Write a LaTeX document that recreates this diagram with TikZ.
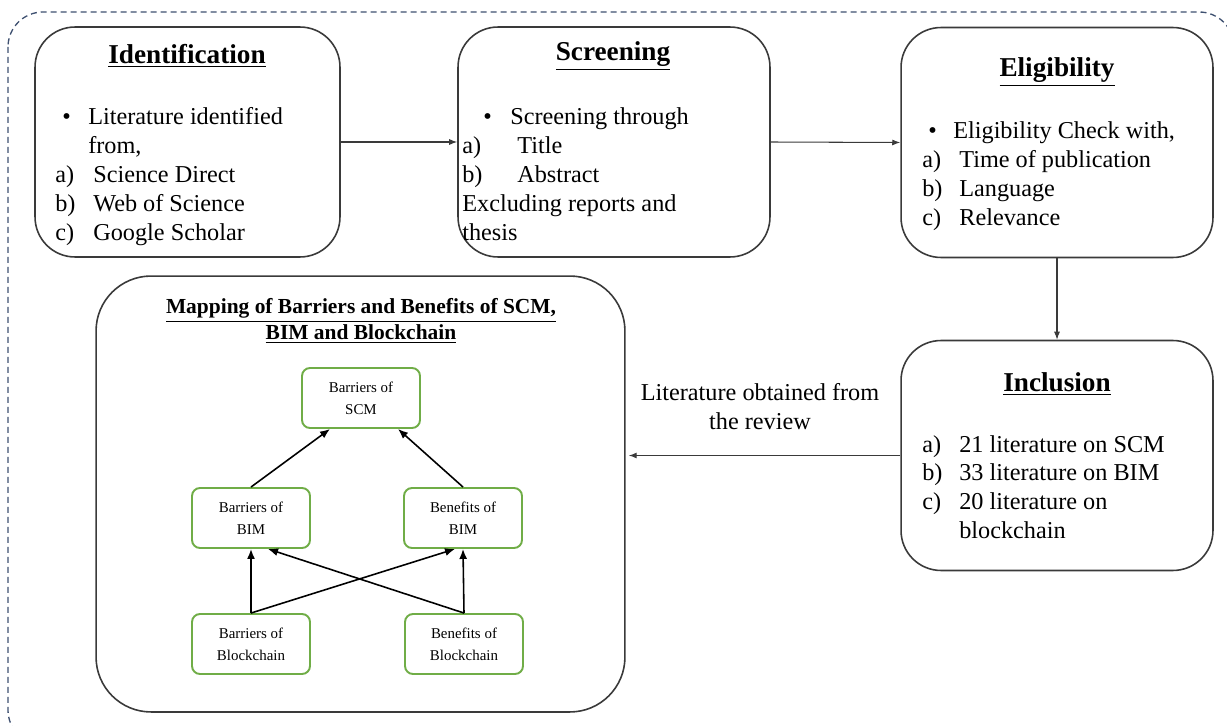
\documentclass[tikz,border=0pt]{standalone}
\usepackage{fontspec}
\setmainfont{Liberation Serif}
\usetikzlibrary{arrows.meta,positioning}
\definecolor{framegray}{HTML}{3E5070}
\definecolor{mapgreen}{HTML}{70AD47}
\definecolor{linegray}{HTML}{3A3A3A}
\newcommand{\lbul}[2]{\makebox[#2][l]{\hspace*{#1}\textbullet}}
\newcommand{\lenum}[2]{\makebox[#2][l]{#1)}}

\begin{document}
\begin{tikzpicture}[x=0.02cm,y=-0.02cm,>=Latex,
  stage/.style={draw=linegray,line width=0.9pt,rounded corners=0.8cm,minimum width=6.24cm,minimum height=4.6cm},
  head/.style={font=\fontsize{15.5}{18}\selectfont\bfseries},
  listtxt/.style={anchor=base west,inner sep=0pt,font=\fontsize{13.8}{16.5}\selectfont},
  mapbox/.style={draw=mapgreen,line width=1.1pt,rounded corners=0.16cm,minimum width=2.36cm,minimum height=1.2cm,align=center,font=\fontsize{8.5}{12.5}\selectfont},
  flow/.style={->,draw=linegray,line width=0.6pt,>={Latex[length=0.16cm,width=0.12cm]}},
  maparrow/.style={->,line width=0.9pt,>={Latex[length=0.2cm,width=0.16cm]}}]
  \useasboundingbox (0,0) rectangle (1227,726);
  \draw[framegray,line width=0.75pt,dash pattern=on 0.12cm off 0.08cm,rounded corners=0.7cm] (8,12) rectangle (1234,745);

  % review stages
  \node[stage,minimum width=6.1cm] (ident) at (187.5,142) {};
  \node[stage] (screen) at (614,142) {};
  \node[stage] (elig) at (1057,142.5) {};
  \node[stage] (incl) at (1057,455.5) {};

  \node[head] (identhead) at (187,56) {\underline{Identification}};
  \node[head] (screenhead) at (613,56) {\underline{Screening}};
  \node[head] (elighead) at (1057,72) {\underline{Eligibility}};
  \node[head] (inclhead) at (1057,384) {\underline{Inclusion}};

  \node[listtxt] (identlist) at (55,125) {\begin{tabular}[t]{@{}l@{}}
    \lbul{0.14cm}{0.66cm}Literature identified\\
    \hspace*{0.66cm}from,\\
    \lenum{a}{0.76cm}Science Direct\\
    \lenum{b}{0.76cm}Web of Science\\
    \lenum{c}{0.76cm}Google Scholar
  \end{tabular}};
  \node[listtxt] (screenlist) at (462,125) {\begin{tabular}[t]{@{}l@{}}
    \lbul{0.42cm}{0.96cm}Screening through\\
    \lenum{a}{1.1cm}Title\\
    \lenum{b}{1.1cm}Abstract\\
    Excluding reports and\\
    thesis
  \end{tabular}};
  \node[listtxt] (eliglist) at (922,139) {\begin{tabular}[t]{@{}l@{}}
    \lbul{0.12cm}{0.62cm}Eligibility Check with,\\
    \lenum{a}{0.74cm}Time of publication\\
    \lenum{b}{0.74cm}Language\\
    \lenum{c}{0.74cm}Relevance
  \end{tabular}};
  \node[listtxt] (incllist) at (922,452) {\begin{tabular}[t]{@{}l@{}}
    \lenum{a}{0.74cm}21 literature on SCM\\
    \lenum{b}{0.74cm}33 literature on BIM\\
    \lenum{c}{0.74cm}20 literature on\\
    \hspace*{0.74cm}blockchain
  \end{tabular}};

  \draw[flow] (ident.east) -- (screen.west);
  \draw[flow] (screen.east) -- (elig.west);
  \draw[flow] (elig.south) -- (incl.north);

  % mapping panel
  \node[draw=linegray,line width=0.9pt,rounded corners=1.1cm,minimum width=10.58cm,minimum height=8.72cm] (mapframe) at (360.5,494) {};
  \node[font=\fontsize{12.2}{14.8}\selectfont\bfseries,align=center] (maptitle) at (361,321)
    {\underline{Mapping of Barriers and Benefits of SCM,}\\\underline{BIM and Blockchain}};
  \node[mapbox] (scmbar) at (361,398) {Barriers of\\SCM};
  \node[mapbox] (bimbar) at (251,518) {Barriers of\\BIM};
  \node[mapbox] (bimben) at (463,518) {Benefits of\\BIM};
  \node[mapbox] (bcbar) at (251,644) {Barriers of\\Blockchain};
  \node[mapbox] (bcben) at (464,644) {Benefits of\\Blockchain};

  \draw[maparrow] (bimbar.north) -- ([xshift=-0.62cm]scmbar.south);
  \draw[maparrow] (bimben.north) -- ([xshift=0.74cm]scmbar.south);
  \draw[maparrow] (bcbar.north) -- (bimbar.south);
  \draw[maparrow] (bcbar.north) -- ([xshift=-0.16cm]bimben.south);
  \draw[maparrow] (bcben.north) -- ([xshift=0.34cm]bimbar.south);
  \draw[maparrow] (bcben.north) -- (bimben.south);

  \draw[flow] (incl.west) -- ([xshift=0.06cm]incl.west -| mapframe.east);
  \node[font=\fontsize{13.8}{16.5}\selectfont,align=center] (reviewlbl) at (760,407) {Literature obtained from\\the review};
\end{tikzpicture}
\end{document}
